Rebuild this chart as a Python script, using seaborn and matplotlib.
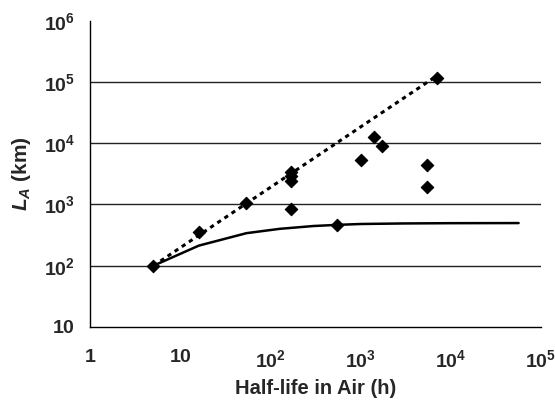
import matplotlib
matplotlib.use("Agg")
import matplotlib.pyplot as plt
import seaborn as sns
import pandas as pd
from matplotlib.ticker import FixedLocator, FixedFormatter, NullLocator

# Data
half_life_pts = [5, 16, 54, 168, 168, 168, 168, 1025, 1417, 1710, 5500, 5500, 7100, 541]
la_pts = [100, 360, 1060, 3450, 2930, 2460, 838, 5300, 12600, 9060, 4440, 1940, 114000, 464]

dotted_x = [5, 7000]
dotted_y = [100, 125000]

solid_x = [5, 16, 54, 126, 300, 541, 1000, 3000, 10000, 57000]
solid_y = [100, 213, 340, 400, 445, 464, 480, 490, 495, 497]

x_ticks = [1, 10, 100, 1000, 10000, 100000]
x_labels = [r"$\mathbf{1}$", r"$\mathbf{10}$", r"$\mathbf{10^{2}}$", r"$\mathbf{10^{3}}$",
            r"$\mathbf{10^{4}}$", r"$\mathbf{10^{5}}$"]
y_ticks = [10, 100, 1000, 10000, 100000, 1000000]
y_labels = [r"$\mathbf{10}$", r"$\mathbf{10^{2}}$", r"$\mathbf{10^{3}}$", r"$\mathbf{10^{4}}$",
            r"$\mathbf{10^{5}}$", r"$\mathbf{10^{6}}$"]

sns.set_style("white")
plt.rcParams["font.family"] = ["Liberation Sans", "DejaVu Sans"]
plt.rcParams["mathtext.fontset"] = "custom"
plt.rcParams["mathtext.rm"] = "Liberation Sans"
plt.rcParams["mathtext.bf"] = "Liberation Sans:bold"
plt.rcParams["mathtext.it"] = "Liberation Sans:italic"
try:
    plt.rcParams["mathtext.bfit"] = "Liberation Sans:italic:bold"
except Exception:
    pass

fig = plt.figure(figsize=(5.55, 4.04), dpi=100)
ax = fig.add_axes([0.163, 0.1906, 0.811, 0.7582])

df_pts = pd.DataFrame({"t": half_life_pts, "L": la_pts})
df_dot = pd.DataFrame({"t": dotted_x, "L": dotted_y})
df_sol = pd.DataFrame({"t": solid_x, "L": solid_y})

ax.set_xscale("log")
ax.set_yscale("log")

for yv in y_ticks[1:-1]:
    ax.axhline(yv, color="#222222", lw=1.0, zorder=1)

sns.lineplot(data=df_sol, x="t", y="L", ax=ax, color="black", lw=1.8, zorder=3)
sns.lineplot(data=df_dot, x="t", y="L", ax=ax, color="black", lw=2.2, zorder=3,
             linestyle=(0, (1.4, 1.4)))
sns.scatterplot(data=df_pts, x="t", y="L", ax=ax, color="black", marker="D", s=40,
                edgecolor="black", linewidth=0.8, zorder=4)

ax.set_xlim(1, 100000)
ax.set_ylim(10, 1000000)

ax.xaxis.set_major_locator(FixedLocator(x_ticks))
ax.xaxis.set_major_formatter(FixedFormatter(x_labels))
ax.xaxis.set_minor_locator(NullLocator())
ax.yaxis.set_major_locator(FixedLocator(y_ticks))
ax.yaxis.set_major_formatter(FixedFormatter(y_labels))
ax.yaxis.set_minor_locator(NullLocator())

for s in ["top", "right"]:
    ax.spines[s].set_visible(False)
for s in ["left", "bottom"]:
    ax.spines[s].set_color("black")
    ax.spines[s].set_linewidth(1.0)

ax.tick_params(axis="both", which="major", direction="out", length=5, width=1,
               color="black", labelsize=14, pad=6)
ax.tick_params(axis="x", pad=11)

ax.set_xlabel("Half-life in Air (h)", fontsize=14.5, fontweight="bold", labelpad=6)
ax.set_ylabel(r"$\mathbfit{L}_{\mathbfit{A}}$ (km)", fontsize=15, fontweight="bold", labelpad=8)

fig.savefig("out.png", dpi=100)
